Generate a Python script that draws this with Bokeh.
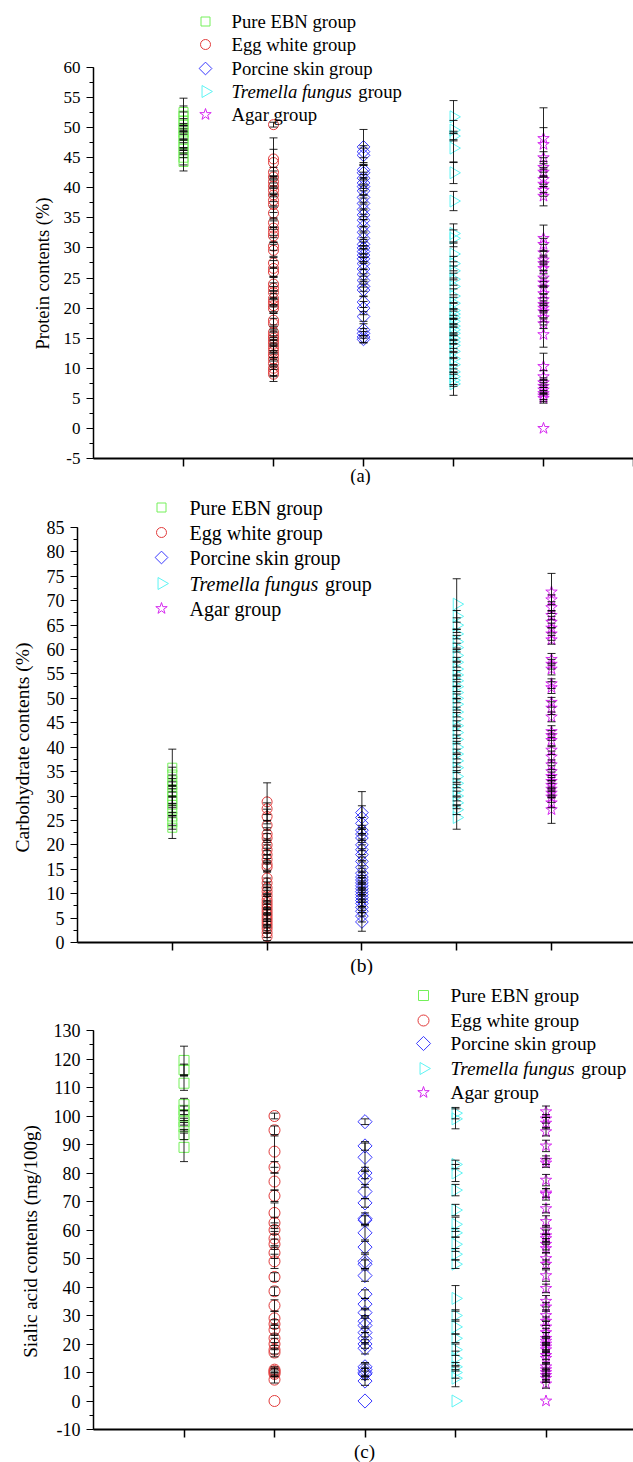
import math
from bokeh.plotting import figure
from bokeh.layouts import column
from bokeh.models import Range1d, SingleIntervalTicker, FixedTicker, CustomJSTickFormatter
from bokeh.core.properties import value
from bokeh.embed import file_html
from bokeh.resources import INLINE

FONT = "Liberation Serif"

# ---------------- data ----------------
GROUPS = ["Pure EBN group", "Egg white group", "Porcine skin group",
          "Tremella fungus group", "Agar group"]
POSITIONS = [1, 2, 3, 4, 5]
COLORS = ["#74F05A", "#E23B3B", "#3A3AFF", "#5EF4F4", "#D62AF0"]
MARKERS = ["square", "circle", "square", "triangle", "star"]
ANGLES = [0, 0, math.pi / 4, -math.pi / 2, 0]

# (value, error) pairs, panel (a): protein contents (%)
A_EBN = [(44.3, 1.5), (45.0, 1.2), (45.8, 0.8), (46.5, 1.0), (47.2, 0.9), (48.0, 1.3),
         (48.6, 0.7), (49.2, 1.1), (49.8, 0.9), (50.5, 1.0), (51.2, 1.4), (52.0, 1.6), (52.6, 2.3)]
A_EGG = [(50.5, 0.4), (44.8, 3.5), (44.2, 2.2), (42.6, 0.8), (41.8, 1.0), (41.0, 0.9), (40.3, 1.2),
         (39.6, 0.7), (38.8, 1.1), (37.9, 0.9), (37.2, 1.3), (35.8, 1.0), (34.2, 0.8), (33.3, 1.2),
         (32.6, 0.9), (32.0, 1.1), (30.3, 0.7), (29.6, 1.0), (27.5, 0.9), (26.6, 1.3), (26.0, 0.8),
         (24.0, 1.1), (23.3, 0.9), (22.6, 1.0), (21.6, 1.2), (21.0, 0.8), (20.4, 1.0), (19.9, 0.7),
         (18.0, 1.1), (17.4, 0.9), (16.0, 1.2), (15.4, 0.8), (15.0, 1.0), (14.5, 0.9), (14.0, 1.1),
         (13.4, 0.8), (12.8, 1.0), (12.2, 0.7), (11.5, 0.9), (10.8, 1.0), (10.0, 1.2), (9.5, 0.9), (9.0, 1.2)]
A_POR = [(46.8, 2.9), (46.0, 1.0), (45.4, 1.2), (43.0, 0.8), (42.5, 1.2), (41.6, 1.0), (40.8, 0.9),
         (40.2, 1.3), (39.5, 0.8), (38.4, 1.1), (37.4, 0.9), (36.4, 1.2), (35.5, 0.8), (34.6, 1.0),
         (33.6, 1.1), (32.6, 0.9), (31.6, 1.2), (30.6, 0.8), (30.0, 1.0), (29.4, 0.9), (28.8, 1.1),
         (28.2, 0.8), (27.4, 1.0), (26.5, 1.2), (25.6, 0.9), (24.6, 1.1), (23.6, 0.8), (23.0, 1.0),
         (21.0, 0.9), (20.0, 1.1), (18.6, 0.8), (16.4, 1.0), (15.8, 0.8), (15.2, 0.9), (14.8, 0.6)]
A_TRE = [(51.8, 2.7), (49.6, 1.6), (48.6, 0.8), (46.6, 2.4), (42.5, 1.8), (37.8, 1.6), (32.4, 1.6),
         (31.6, 1.4), (29.0, 2.0), (27.4, 1.2), (26.2, 1.5), (24.8, 1.0), (23.6, 1.4), (22.0, 1.2),
         (20.8, 1.0), (19.6, 1.3), (19.0, 0.9), (18.4, 1.1), (17.8, 1.0), (17.0, 1.3), (16.4, 1.0),
         (15.8, 1.2), (15.0, 0.9), (14.4, 1.1), (13.8, 1.0), (12.8, 1.2), (11.6, 1.0), (10.6, 1.2),
         (9.4, 1.1), (8.6, 1.3), (8.0, 1.0), (7.4, 1.9)]
A_AGA = [(48.2, 5.1), (47.2, 2.8), (45.0, 1.0), (43.4, 1.6), (42.6, 0.8), (41.4, 1.2), (40.6, 1.4),
         (39.6, 1.0), (38.6, 1.6), (31.6, 2.2), (30.6, 1.0), (29.2, 1.4), (28.0, 0.8), (27.4, 1.1),
         (26.6, 0.9), (25.0, 1.2), (24.2, 0.8), (23.4, 1.0), (22.4, 1.2), (21.4, 0.9), (20.6, 1.1),
         (20.0, 0.8), (19.4, 1.0), (18.4, 1.2), (17.4, 0.8), (15.6, 2.1), (10.3, 2.2), (8.6, 1.0),
         (7.6, 0.8), (7.0, 1.0), (6.4, 0.8), (5.8, 1.0), (5.4, 0.9), (5.0, 0.8), (0.0, 0.0)]

# panel (b): carbohydrate contents (%)
B_EBN = [(23.5, 2.2), (24.6, 1.4), (25.8, 1.8), (27.2, 1.2), (28.2, 1.6), (29.0, 1.0), (30.0, 1.5),
         (31.0, 1.2), (32.2, 1.4), (33.2, 1.1), (34.4, 1.5), (35.8, 3.8)]
B_EGG = [(28.8, 3.9), (27.4, 1.2), (25.8, 1.5), (24.0, 1.0), (22.2, 1.3), (21.4, 0.9), (20.0, 1.2),
         (19.0, 1.0), (18.0, 1.3), (17.0, 0.9), (16.0, 1.2), (15.4, 1.0), (13.2, 1.4), (12.2, 1.0),
         (11.2, 1.2), (10.4, 0.9), (9.6, 1.1), (8.8, 1.0), (8.2, 1.2), (7.6, 0.9), (7.0, 1.1),
         (6.4, 0.8), (5.8, 1.0), (5.2, 0.9), (4.6, 1.1), (4.0, 0.8), (3.4, 1.0), (2.8, 0.9),
         (2.0, 1.0), (1.2, 0.8)]
B_POR = [(26.6, 4.3), (25.6, 2.4), (24.4, 1.2), (23.0, 1.0), (22.2, 1.3), (21.4, 0.9), (20.0, 1.2),
         (19.0, 1.0), (18.0, 1.2), (16.6, 0.9), (15.4, 1.1), (14.2, 1.0), (13.4, 1.2), (12.8, 0.9),
         (12.2, 1.1), (11.6, 1.0), (11.0, 1.2), (10.4, 0.9), (9.8, 1.1), (9.2, 1.0), (8.6, 1.2),
         (8.0, 0.9), (7.2, 1.1), (6.4, 1.0), (5.4, 1.2), (4.2, 1.9)]
B_TRE = [(69.3, 5.2), (66.8, 1.2), (65.0, 1.5), (63.2, 1.0), (61.6, 1.3), (60.4, 0.9), (58.8, 1.2),
         (57.4, 1.0), (56.0, 1.4), (54.8, 0.9), (53.6, 1.2), (52.4, 1.0), (51.2, 1.3), (50.0, 0.9),
         (48.8, 1.2), (47.2, 1.0), (45.8, 1.3), (44.4, 1.0), (43.0, 1.2), (41.6, 0.9), (40.0, 1.2),
         (38.6, 1.0), (37.2, 1.3), (35.8, 1.0), (34.0, 1.2), (32.6, 0.9), (31.2, 1.2), (30.0, 1.0),
         (28.6, 1.2), (27.2, 1.0), (25.6, 2.4)]
B_AGA = [(71.8, 3.8), (70.2, 1.0), (68.6, 1.2), (67.0, 0.9), (65.6, 1.2), (64.4, 1.0), (63.2, 1.3),
         (62.0, 0.9), (58.0, 1.2), (57.0, 1.0), (56.0, 1.2), (53.0, 1.0), (52.2, 1.2), (49.2, 1.0),
         (48.0, 1.3), (46.2, 1.0), (43.2, 1.2), (42.4, 1.0), (41.4, 1.3), (39.4, 0.9), (38.0, 1.2),
         (36.4, 1.0), (35.0, 1.2), (34.0, 0.9), (33.0, 1.2), (32.2, 1.0), (31.4, 1.2), (30.6, 0.9),
         (29.8, 1.1), (28.6, 1.0), (27.2, 2.8)]

# panel (c): sialic acid contents (mg/100g)
C_EBN = [(119.5, 5.0), (116.2, 2.0), (111.5, 2.5), (104.0, 2.2), (102.0, 1.5), (100.2, 1.8),
         (98.0, 1.2), (96.2, 1.5), (93.5, 1.8), (89.0, 5.0)]
C_EGG = [(100.0, 1.0), (95.0, 1.5), (87.5, 5.5), (82.0, 2.0), (77.0, 3.0), (72.0, 2.0), (66.0, 3.5),
         (62.5, 2.0), (60.0, 1.5), (57.0, 2.5), (55.0, 1.8), (52.0, 2.0), (49.0, 2.5), (43.5, 1.5),
         (38.5, 1.5), (33.5, 2.0), (29.0, 2.5), (27.0, 1.5), (25.0, 2.0), (22.0, 1.5), (20.0, 2.0),
         (18.0, 1.5), (17.0, 1.5), (11.0, 1.0), (10.5, 1.0), (10.0, 1.2), (9.5, 1.0), (7.5, 1.2), (0.0, 0.0)]
C_POR = [(98.0, 1.0), (89.5, 1.5), (85.5, 5.0), (80.0, 2.0), (78.0, 3.0), (73.5, 2.5), (69.5, 1.5),
         (64.0, 2.0), (63.5, 1.5), (59.0, 2.5), (54.0, 2.0), (49.0, 2.5), (48.0, 1.5), (44.0, 2.0),
         (37.5, 1.5), (34.0, 2.0), (31.0, 1.5), (28.0, 2.0), (26.5, 2.5), (24.0, 1.5), (22.0, 2.0),
         (20.0, 1.5), (18.5, 2.0), (12.0, 1.5), (11.0, 2.0), (10.0, 1.5), (9.5, 2.0), (7.0, 1.5), (0.0, 0.0)]
C_TRE = [(101.0, 2.0), (99.0, 3.5), (83.0, 1.5), (80.0, 3.0), (74.0, 2.0), (67.0, 2.0), (62.0, 2.5),
         (59.0, 1.5), (55.0, 2.5), (51.5, 2.0), (48.0, 1.5), (36.0, 4.5), (30.0, 2.0), (26.0, 2.5),
         (22.0, 1.5), (18.0, 2.0), (15.0, 2.5), (12.0, 1.5), (10.0, 2.0), (8.0, 3.0), (0.0, 0.0)]
C_AGA = [(101.5, 2.0), (99.0, 1.5), (97.5, 2.0), (94.5, 1.5), (89.5, 2.0), (84.5, 1.5), (83.5, 1.5),
         (77.5, 2.0), (73.0, 1.5), (72.5, 2.0), (67.5, 1.5), (63.0, 2.0), (60.0, 1.5), (58.0, 2.0),
         (57.0, 1.5), (55.0, 2.0), (53.5, 1.5), (50.0, 2.0), (48.0, 1.5), (44.0, 2.0), (39.5, 1.5),
         (35.0, 2.0), (33.0, 1.5), (30.0, 2.0), (28.0, 1.5), (26.0, 2.0), (24.0, 1.5), (22.0, 2.0),
         (21.0, 1.5), (20.0, 2.0), (19.0, 1.5), (18.0, 2.0), (16.0, 1.5), (15.0, 2.0), (12.0, 1.5),
         (11.0, 2.0), (10.0, 1.5), (9.0, 2.0), (8.0, 1.5), (6.0, 1.5), (0.0, 0.0)]

Y_LABELS = ["Protein contents (%)", "Carbohydrate contents (%)", "Sialic acid contents (mg/100g)"]
PANEL_TAGS = ["(a)", "(b)", "(c)"]

# layout of each panel, in pixels (page coordinates)
PANELS = [
    dict(data=[A_EBN, A_EGG, A_POR, A_TRE, A_AGA], ylabel=Y_LABELS[0], tag=PANEL_TAGS[0],
         top=0, height=485, axis_px=93, ppx=90.0, yref=(60, 67), ppy=6.015,
         bounds=(-5, 60), interval=5,
         tick_font="17px", label_font="18.5px", legend_font="18.7px",
         legend_px=(205, 231), legend_rows=[21, 44, 68, 91, 114],
         ylab_px=(42, 273), tag_px=(360, 475), sizes=[9, 10, 9, 12, 12]),
    dict(data=[B_EBN, B_EGG, B_POR, B_TRE, B_AGA], ylabel=Y_LABELS[1], tag=PANEL_TAGS[1],
         top=485, height=490, axis_px=77, ppx=94.8, yref=(85, 527), ppy=4.882,
         bounds=(0, 85), interval=5,
         tick_font="18px", label_font="19.5px", legend_font="20px",
         legend_px=(161, 189), legend_rows=[507, 532, 557, 583, 608],
         ylab_px=(22, 747), tag_px=(361, 965), sizes=[9, 10, 9, 12, 12]),
    dict(data=[C_EBN, C_EGG, C_POR, C_TRE, C_AGA], ylabel=Y_LABELS[2], tag=PANEL_TAGS[2],
         top=975, height=487, axis_px=93, ppx=90.5, yref=(130, 1030), ppy=2.85,
         bounds=(-10, 130), interval=10,
         tick_font="18px", label_font="19px", legend_font="19.3px",
         legend_px=(423, 450), legend_rows=[995, 1020, 1043, 1068, 1092],
         ylab_px=(30, 1241), tag_px=(364, 1451), sizes=[10, 11, 10, 12, 12]),
]

WIDTH = 633


def make_panel(cfg):
    top, h = cfg["top"], cfg["height"]
    ax, ppx = cfg["axis_px"], cfg["ppx"]
    yv, ypx = cfg["yref"]
    ppy = cfg["ppy"]

    def to_x(px):
        return (px - ax) / ppx

    def to_y(py):  # py: page pixel
        return yv - (py - ypx) / ppy

    x_end = to_x(WIDTH)
    p = figure(width=WIDTH, height=h, output_backend="svg", toolbar_location=None,
               x_range=Range1d(to_x(0), x_end), y_range=Range1d(to_y(top + h), to_y(top)),
               min_border_left=0, min_border_right=0, min_border_top=0, min_border_bottom=0)
    p.grid.visible = False
    p.outline_line_color = None
    p.background_fill_color = "white"
    p.border_fill_color = "white"

    # points then error bars
    for i, grp in enumerate(cfg["data"]):
        xs = [POSITIONS[i]] * len(grp)
        ys = [v for v, e in grp]
        p.scatter(xs, ys, marker=MARKERS[i], size=cfg["sizes"][i], angle=ANGLES[i],
                  fill_color=None, line_color=COLORS[i], line_width=1)
    for i, grp in enumerate(cfg["data"]):
        eb = [(v, e) for v, e in grp if e > 0]
        xs = [POSITIONS[i]] * len(eb)
        lo = [v - e for v, e in eb]
        hi = [v + e for v, e in eb]
        p.segment(xs, lo, xs, hi, line_color="black", line_width=1, line_alpha=0.85)
        p.scatter(xs + xs, lo + hi, marker="dash", size=8, line_color="black",
                  line_width=1, line_alpha=0.85)

    # legend (manual, to allow mixed italic text)
    mx, tx = cfg["legend_px"]
    fs = float(cfg["legend_font"].replace("px", ""))
    for i, row in enumerate(cfg["legend_rows"]):
        yy = to_y(row)
        p.scatter([to_x(mx)], [yy], marker=MARKERS[i], size=cfg["sizes"][i], angle=ANGLES[i],
                  fill_color=None, line_color=COLORS[i], line_width=1)
        if i == 3:
            p.text([to_x(tx)], [yy], text=["Tremella fungus"], text_font=value(FONT),
                   text_font_size=cfg["legend_font"], text_font_style="italic",
                   text_baseline="middle", text_align="left", text_color="black")
            p.text([to_x(tx)], [yy], text=["group"], x_offset=fs * 6.78,
                   text_font=value(FONT), text_font_size=cfg["legend_font"],
                   text_baseline="middle", text_align="left", text_color="black")
        else:
            p.text([to_x(tx)], [yy], text=[GROUPS[i]], text_font=value(FONT),
                   text_font_size=cfg["legend_font"], text_baseline="middle",
                   text_align="left", text_color="black")

    # axis titles drawn in data space
    lx, ly = cfg["ylab_px"]
    p.text([to_x(lx)], [to_y(ly)], text=[cfg["ylabel"]], angle=math.pi / 2,
           text_font=value(FONT), text_font_size=cfg["label_font"],
           text_align="center", text_baseline="middle", text_color="black")
    gx, gy = cfg["tag_px"]
    p.text([to_x(gx)], [to_y(gy)], text=[cfg["tag"]],
           text_font=value(FONT), text_font_size=cfg["label_font"],
           text_align="center", text_baseline="middle", text_color="black")

    # y axis, fixed at x = 0
    ya = p.yaxis[0]
    ya.fixed_location = 0
    ya.ticker = SingleIntervalTicker(interval=cfg["interval"], num_minor_ticks=2)
    ya.formatter = CustomJSTickFormatter(code="return tick.toFixed(0)")
    ya.bounds = cfg["bounds"]
    ya.major_tick_in = 0
    ya.major_tick_out = 7
    ya.minor_tick_in = 0
    ya.minor_tick_out = 4
    ya.major_tick_line_color = "black"
    ya.minor_tick_line_color = "black"
    ya.axis_line_color = "black"
    ya.axis_line_width = 1.5
    ya.major_tick_line_width = 1.2
    ya.major_label_text_font = FONT
    ya.major_label_text_font_size = cfg["tick_font"]
    ya.major_label_text_color = "black"
    ya.major_label_standoff = 6

    # x axis, fixed at the lower bound of the value axis
    xa = p.xaxis[0]
    xa.fixed_location = cfg["bounds"][0]
    xa.bounds = (0, x_end)
    xa.ticker = FixedTicker(ticks=[1, 2, 3, 4, 5, 6], minor_ticks=[])
    xa.formatter = CustomJSTickFormatter(code="return ''")
    xa.major_label_standoff = 0
    xa.major_tick_in = 0
    xa.major_tick_out = 8
    xa.major_tick_line_width = 1.5
    xa.major_tick_line_color = "black"
    xa.minor_tick_line_color = None
    xa.axis_line_color = "black"
    xa.axis_line_width = 2
    return p


plots = [make_panel(c) for c in PANELS]
layout = column(*plots, spacing=0)
open("out.html", "w").write(file_html(layout, INLINE))
